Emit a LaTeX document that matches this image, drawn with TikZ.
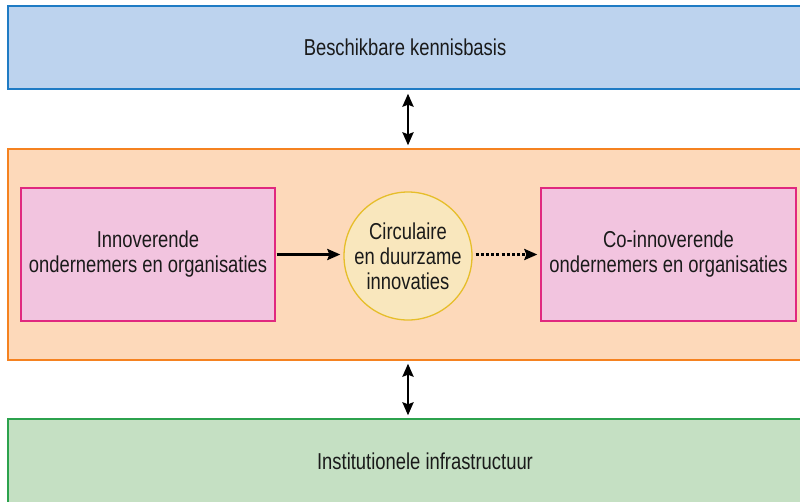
\documentclass[tikz,border=0pt]{standalone}
\usepackage{fontspec}
\setmainfont{Liberation Sans}[FakeStretch=0.8]
\usetikzlibrary{arrows.meta}
\definecolor{blueF}{HTML}{BDD3EE}
\definecolor{blueD}{HTML}{1F7BC4}
\definecolor{orF}{HTML}{FDD9BA}
\definecolor{orD}{HTML}{F58220}
\definecolor{grF}{HTML}{C5E0C3}
\definecolor{grD}{HTML}{2CA24D}
\definecolor{pkF}{HTML}{F2C4DF}
\definecolor{pkD}{HTML}{E0287F}
\definecolor{ciF}{HTML}{F9E7BD}
\definecolor{ciD}{HTML}{E6BE2A}
\definecolor{txt}{HTML}{1A1A1A}
\tikzset{
  band/.style={draw, line width=1.3pt, minimum width=794pt, inner sep=0pt, text=txt,
    font=\fontsize{23}{26}\selectfont},
  pinkbox/.style={draw=pkD, fill=pkF, line width=1.3pt, minimum height=133pt, inner sep=0pt,
    align=center, text=txt, font=\fontsize{23}{25}\selectfont},
  circ/.style={circle, draw=ciD, fill=ciF, line width=1.3pt, minimum size=128pt, inner sep=0pt,
    align=center, text=txt, font=\fontsize{23}{25}\selectfont},
  dblarrow/.style={line width=2.7pt, {Stealth[length=13pt,width=11pt,inset=2pt]}-{Stealth[length=13pt,width=11pt,inset=2pt]}},
  fwdarrow/.style={line width=2.7pt, -{Stealth[length=13pt,width=11pt,inset=2pt]}},
}
\begin{document}
\begin{tikzpicture}[x=1pt,y=-1pt]
\useasboundingbox (0,0) rectangle (800,501);
\node[band, draw=blueD, fill=blueF, minimum height=83pt] (kb) at (405,47.5) {Beschikbare kennisbasis};
\node[band, draw=orD, fill=orF, minimum height=211pt] (mid) at (405,254.5) {};
\node[band, draw=grD, fill=grF, minimum height=84pt, minimum width=834pt] (inf) at (425,461) {Institutionele infrastructuur};
\node[pinkbox, minimum width=254pt] (lp) at (148,254.5) {Innoverende\\ondernemers en organisaties};
\node[pinkbox, minimum width=255pt] (rp) at (668.5,254.5) {Co-innoverende\\ondernemers en organisaties};
\node[circ] (c) at (408,256) {Circulaire\\en duurzame\\innovaties};
\draw[dblarrow] ([yshift=-4pt]kb.south -| c.center) -- ([yshift=3pt]mid.north -| c.center);
\draw[dblarrow] ([yshift=-3pt]mid.south -| c.center) -- ([yshift=3pt]inf.north -| c.center);
\draw[fwdarrow] ([xshift=1pt]lp.east) -- ([xshift=-3pt]c.west |- lp.east);
\draw[fwdarrow, dash pattern=on 3pt off 2.2pt] ([xshift=3pt]c.east |- rp.west) -- ([xshift=-3pt]rp.west);
\end{tikzpicture}
\end{document}
